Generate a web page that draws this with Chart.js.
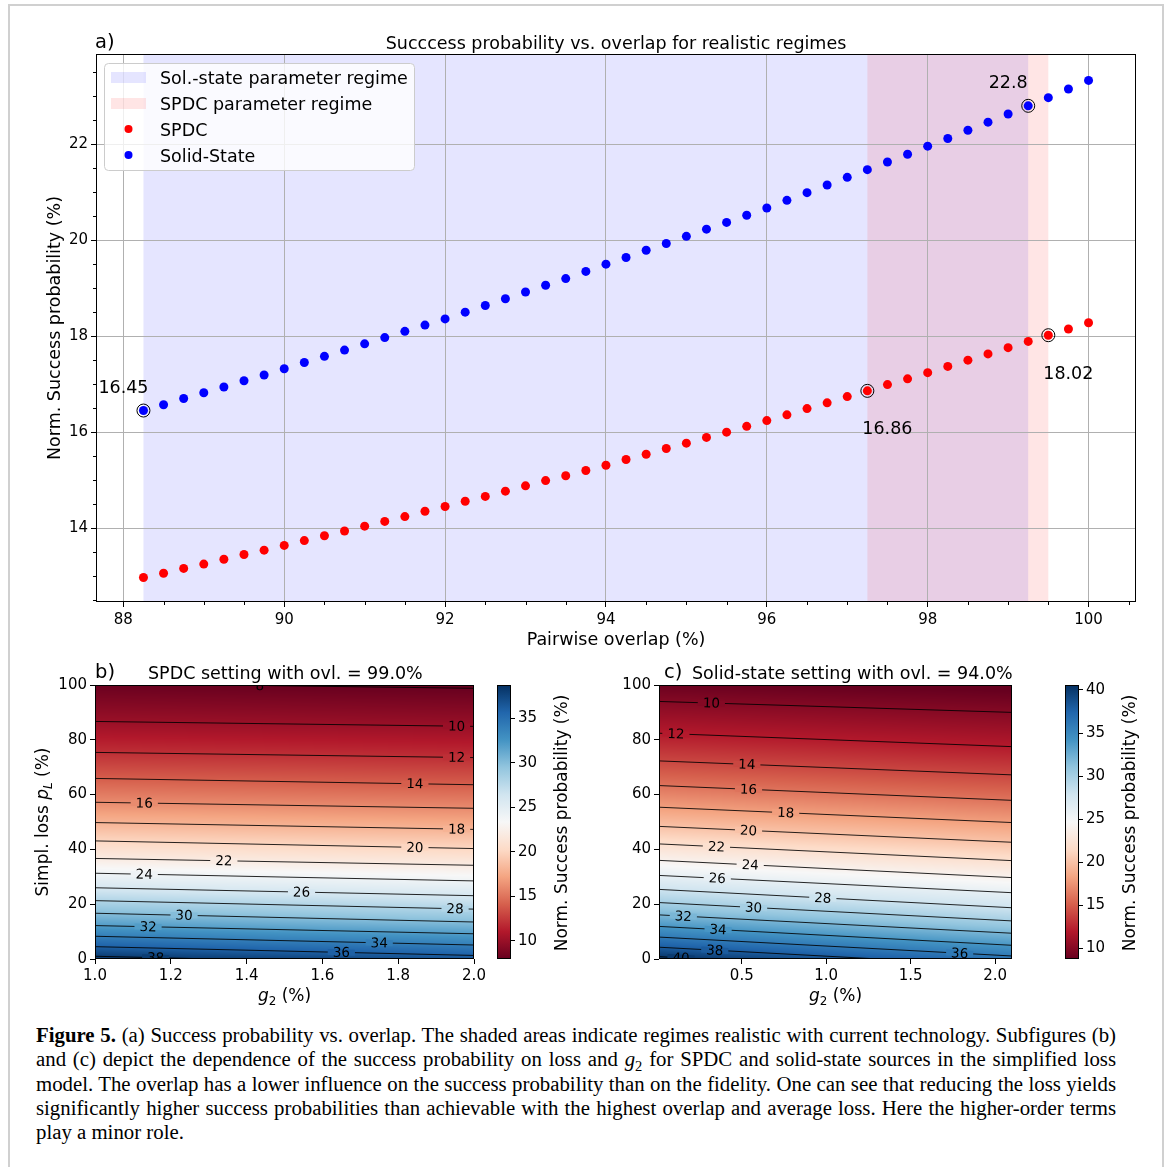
<!DOCTYPE html>
<html>
<head>
<meta charset="utf-8">
<script src="https://cdn.jsdelivr.net/npm/chart.js@4.4.1/dist/chart.umd.min.js"></script>
<style>
html, body { margin: 0; padding: 0; background: #fff; }
body { width: 1168px; height: 1167px; position: relative; overflow: hidden; }
.frame { position: absolute; left: 8px; top: 4px; width: 1156px; height: 1200px; border: 2px solid #d0d0d0; box-sizing: border-box; }
.box { position: absolute; }
.caption { position: absolute; left: 36px; top: 1023px; width: 1080px; font-family: 'Liberation Serif', 'DejaVu Serif', serif; font-size: 20.8px; line-height: 24.3px; color: #000; }
.caption .j { text-align: justify; text-align-last: justify; }
.caption sub { font-size: 70%; line-height: 0; }
</style>
</head>
<body>
<div class="frame"></div>
<div class="box" style="left:0;top:0;"><canvas id="chartA" width="1168" height="660"></canvas></div>
<div class="box" style="left:480px;top:660px;"><canvas id="cbarB" width="120" height="350"></canvas></div>
<div class="box" style="left:0;top:660px;"><canvas id="chartB" width="490" height="350"></canvas></div>
<div class="box" style="left:1050px;top:660px;"><canvas id="cbarC" width="118" height="350"></canvas></div>
<div class="box" style="left:600px;top:660px;"><canvas id="chartC" width="450" height="350"></canvas></div>
<div class="caption">
<div class="j"><b>Figure 5.</b> (a) Success probability vs. overlap. The shaded areas indicate regimes realistic with current technology. Subfigures (b)</div>
<div class="j">and (c) depict the dependence of the success probability on loss and <i>g</i><sub>2</sub> for SPDC and solid-state sources in the simplified loss</div>
<div class="j">model. The overlap has a lower influence on the success probability than on the fidelity. One can see that reducing the loss yields</div>
<div class="j">significantly higher success probabilities than achievable with the highest overlap and average loss. Here the higher-order terms</div>
<div>play a minor role.</div>
</div>
<script>
// ---- data: panel a) ----
var overlap = [88.25, 88.5, 88.75, 89.0, 89.25, 89.5, 89.75, 90.0, 90.25, 90.5, 90.75, 91.0,
    91.25, 91.5, 91.75, 92.0, 92.25, 92.5, 92.75, 93.0, 93.25, 93.5, 93.75, 94.0,
    94.25, 94.5, 94.75, 95.0, 95.25, 95.5, 95.75, 96.0, 96.25, 96.5, 96.75, 97.0,
    97.25, 97.5, 97.75, 98.0, 98.25, 98.5, 98.75, 99.0, 99.25, 99.5, 99.75, 100.0];
var solidState = [16.45, 16.57, 16.70, 16.82, 16.94, 17.07, 17.19, 17.32, 17.45, 17.58, 17.71, 17.84,
    17.97, 18.10, 18.23, 18.36, 18.50, 18.64, 18.78, 18.92, 19.06, 19.20, 19.35, 19.50,
    19.64, 19.79, 19.93, 20.08, 20.23, 20.37, 20.52, 20.67, 20.83, 20.99, 21.15, 21.31,
    21.47, 21.63, 21.79, 21.96, 22.12, 22.29, 22.46, 22.63, 22.80, 22.97, 23.15, 23.33];
var spdc = [12.97, 13.06, 13.16, 13.25, 13.35, 13.45, 13.54, 13.64, 13.74, 13.84, 13.94, 14.04,
    14.14, 14.24, 14.35, 14.45, 14.56, 14.66, 14.77, 14.88, 14.99, 15.09, 15.20, 15.31,
    15.43, 15.54, 15.66, 15.77, 15.89, 16.00, 16.12, 16.24, 16.36, 16.49, 16.61, 16.74,
    16.86, 16.99, 17.11, 17.24, 17.37, 17.50, 17.63, 17.76, 17.89, 18.02, 18.15, 18.28];
var solidRegime = [88.25, 99.25];
var spdcRegime = [97.25, 99.5];
var markedSolid = [88.25, 99.25];
var markedSpdc = [97.25, 99.5];
var overlapTicks = [88, 90, 92, 94, 96, 98, 100];
var probTicks = [14, 16, 18, 20, 22];

// ---- data: panels b) and c), contour lines read at the left / right plot edge ----
var lossTicks = [0, 20, 40, 60, 80, 100];
var levelsB = [8, 10, 12, 14, 16, 18, 20, 22, 24, 26, 28, 30, 32, 34, 36, 38];
var lossLeftB = [100.6, 86.7, 75.4, 65.9, 57.2, 49.8, 43.1, 36.7, 31.3, 26.0, 21.3, 16.7, 12.2, 8.3, 4.5, 1.0];
var lossRightB = [98.8, 84.9, 73.5, 63.6, 55.0, 47.3, 40.3, 34.2, 28.5, 23.1, 18.2, 13.5, 9.2, 5.1, 1.3, -2.2];
var labelAtB = [1.435, 1.954, 1.954, 1.844, 1.13, 1.954, 1.844, 1.34, 1.13, 1.545, 1.95, 1.235, 1.14, 1.75, 1.65, 1.16];
var g2RangeB = [1.0, 2.0];
var g2TicksB = [1.0, 1.2, 1.4, 1.6, 1.8, 2.0];
var cbarRangeB = [7.94, 38.75];
var cbarTicksB = [10, 15, 20, 25, 30, 35];

var levelsC = [10, 12, 14, 16, 18, 20, 22, 24, 26, 28, 30, 32, 34, 36, 38, 40];
var lossLeftC = [94.0, 82.4, 72.3, 63.3, 55.4, 48.4, 42.0, 36.0, 30.5, 25.4, 20.6, 16.1, 11.9, 8.0, 4.3, 0.85];
var lossRightC = [90.0, 77.5, 67.2, 57.9, 49.8, 42.6, 35.9, 29.7, 24.2, 18.7, 13.9, 9.4, 5.0, 1.1, -2.6, -6.0];
var labelAtC = [0.32, 0.11, 0.53, 0.54, 0.76, 0.54, 0.35, 0.55, 0.355, 0.98, 0.57, 0.154, 0.36, 1.79, 0.34, 0.14];
var g2RangeC = [0.01, 2.1];
var g2TicksC = [0.5, 1.0, 1.5, 2.0];
var cbarRangeC = [8.76, 40.58];
var cbarTicksC = [10, 15, 20, 25, 30, 35, 40];

var FONT = "'DejaVu Sans', sans-serif";
Chart.defaults.font.family = FONT;
Chart.defaults.color = '#000';
Chart.defaults.animation = false;

// matplotlib RdBu
var rdbuStops = [[103, 0, 31], [178, 24, 43], [214, 96, 77], [244, 165, 130], [253, 219, 199], [247, 247, 247],
    [209, 229, 240], [146, 197, 222], [67, 147, 195], [33, 102, 172], [5, 48, 97]];
function rdbu(t) {
    t = Math.max(0, Math.min(1, t)) * 10;
    var i = Math.min(9, Math.floor(t)), f = t - i;
    var a = rdbuStops[i], b = rdbuStops[i + 1];
    return [a[0] + (b[0] - a[0]) * f, a[1] + (b[1] - a[1]) * f, a[2] + (b[2] - a[2]) * f];
}
function rgb(c) {
    return 'rgb(' + Math.round(c[0]) + ',' + Math.round(c[1]) + ',' + Math.round(c[2]) + ')';
}

// text with optional italic / subscript parts
function drawRich(ctx, parts, x, y, size, align, angle) {
    ctx.save();
    ctx.translate(x, y);
    if (angle) ctx.rotate(angle);
    var widths = [], total = 0;
    parts.forEach(function (p) {
        ctx.font = (p.italic ? 'italic ' : '') + (p.sub ? size * 0.7 : size) + 'px ' + FONT;
        var w = ctx.measureText(p.t).width;
        widths.push(w);
        total += w;
    });
    var cx = align === 'center' ? -total / 2 : (align === 'right' ? -total : 0);
    ctx.textAlign = 'left';
    ctx.textBaseline = 'middle';
    ctx.fillStyle = '#000';
    parts.forEach(function (p, i) {
        ctx.font = (p.italic ? 'italic ' : '') + (p.sub ? size * 0.7 : size) + 'px ' + FONT;
        ctx.fillText(p.t, cx, p.sub ? size * 0.3 : 0);
        cx += widths[i];
    });
    ctx.restore();
}
function drawText(ctx, t, x, y, size, align, angle) {
    drawRich(ctx, [{t: t}], x, y, size, align, angle);
}
function setTicks(list) {
    return function (scale) {
        scale.ticks = list.map(function (v) { return {value: v}; });
    };
}
function frame(chart) {
    var a = chart.chartArea, ctx = chart.ctx;
    ctx.save();
    ctx.strokeStyle = '#000';
    ctx.lineWidth = 1;
    ctx.strokeRect(Math.round(a.left) + 0.5, Math.round(a.top) + 0.5, Math.round(a.right - a.left) - 1, Math.round(a.bottom - a.top) - 1);
    ctx.restore();
}

// ---------------- panel a) ----------------
function pointsOf(values) {
    return overlap.map(function (x, i) { return {x: x, y: values[i]}; });
}
function marked(list, values) {
    return list.map(function (x) { return {x: x, y: values[overlap.indexOf(x)]}; });
}

var regimePlugin = {
    id: 'regimes',
    beforeDraw: function (chart) {
        var ctx = chart.ctx, a = chart.chartArea, xs = chart.scales.x;
        ctx.save();
        [[solidRegime, 'rgba(0,0,255,0.1)'], [spdcRegime, 'rgba(255,0,0,0.1)']].forEach(function (r) {
            var x0 = xs.getPixelForValue(r[0][0]), x1 = xs.getPixelForValue(r[0][1]);
            ctx.fillStyle = r[1];
            ctx.fillRect(x0, a.top, x1 - x0, a.bottom - a.top);
        });
        ctx.restore();
    }
};

var decorA = {
    id: 'decorA',
    afterDraw: function (chart) {
        var ctx = chart.ctx, a = chart.chartArea, xs = chart.scales.x, ys = chart.scales.y;
        frame(chart);
        // minor ticks
        ctx.save();
        ctx.strokeStyle = '#000';
        ctx.lineWidth = 1;
        ctx.beginPath();
        for (var v = Math.ceil(xs.min * 2) / 2; v <= xs.max; v += 0.5) {
            if (v % 2 === 0) continue;
            var px = Math.round(xs.getPixelForValue(v)) + 0.5;
            ctx.moveTo(px, a.bottom);
            ctx.lineTo(px, a.bottom + 3);
        }
        for (var w = Math.ceil(ys.min * 2) / 2; w <= ys.max; w += 0.5) {
            if (w % 2 === 0) continue;
            var py = Math.round(ys.getPixelForValue(w)) + 0.5;
            ctx.moveTo(a.left, py);
            ctx.lineTo(a.left - 3, py);
        }
        ctx.stroke();
        ctx.restore();

        // annotations of the marked points
        marked(markedSolid, solidState).forEach(function (p) {
            drawText(ctx, String(p.y), xs.getPixelForValue(p.x) - 20, ys.getPixelForValue(p.y) - 22, 17.5, 'center');
        });
        marked(markedSpdc, spdc).forEach(function (p) {
            drawText(ctx, String(p.y), xs.getPixelForValue(p.x) + 20, ys.getPixelForValue(p.y) + 39, 17.5, 'center');
        });

        // legend
        ctx.save();
        ctx.fillStyle = 'rgba(255,255,255,0.8)';
        ctx.strokeStyle = '#cccccc';
        ctx.lineWidth = 1;
        ctx.beginPath();
        ctx.roundRect(104.5, 63.5, 310, 107, 4);
        ctx.fill();
        ctx.stroke();
        ctx.fillStyle = 'rgba(0,0,255,0.1)';
        ctx.fillRect(111, 72, 35, 11);
        ctx.fillStyle = 'rgba(255,0,0,0.1)';
        ctx.fillRect(111, 98, 35, 11);
        ctx.fillStyle = '#ff0000';
        ctx.beginPath(); ctx.arc(128.5, 129, 4, 0, Math.PI * 2); ctx.fill();
        ctx.fillStyle = '#0000ff';
        ctx.beginPath(); ctx.arc(128.5, 155, 4, 0, Math.PI * 2); ctx.fill();
        ctx.restore();
        drawText(ctx, 'Sol.-state parameter regime', 160, 79, 17.5, 'left');
        drawText(ctx, 'SPDC parameter regime', 160, 105, 17.5, 'left');
        drawText(ctx, 'SPDC', 160, 131, 17.5, 'left');
        drawText(ctx, 'Solid-State', 160, 157, 17.5, 'left');

        // titles
        drawText(ctx, 'a)', 95, 43, 19.5, 'left');
        drawText(ctx, 'Succcess probability vs. overlap for realistic regimes', (a.left + a.right) / 2, 44, 17.5, 'center');
        drawText(ctx, 'Pairwise overlap (%)', (a.left + a.right) / 2, 640, 17.5, 'center');
        drawText(ctx, 'Norm. Success probability (%)', 55, (a.top + a.bottom) / 2, 17.5, 'center', -Math.PI / 2);
    }
};

new Chart(document.getElementById('chartA'), {
    type: 'scatter',
    data: {
        datasets: [{
            label: 'SPDC',
            data: pointsOf(spdc),
            backgroundColor: '#ff0000',
            borderWidth: 0,
            pointRadius: 4.5
        }, {
            label: 'Solid-State',
            data: pointsOf(solidState),
            backgroundColor: '#0000ff',
            borderWidth: 0,
            pointRadius: 4.5
        }, {
            label: 'marked',
            data: marked(markedSolid, solidState).concat(marked(markedSpdc, spdc)),
            backgroundColor: 'rgba(0,0,0,0)',
            borderColor: '#000',
            borderWidth: 1,
            pointRadius: 6.5
        }]
    },
    options: {
        responsive: false,
        animation: false,
        devicePixelRatio: 1,
        layout: {padding: {left: 0, top: 54, right: 32, bottom: 0}},
        plugins: {legend: {display: false}, tooltip: {enabled: false}},
        scales: {
            x: {
                type: 'linear',
                min: 87.66,
                max: 100.59,
                afterBuildTicks: setTicks(overlapTicks),
                afterFit: function (s) { s.height = 58; },
                border: {display: false},
                grid: {color: '#b0b0b0', lineWidth: 1, tickColor: '#000', tickLength: 5, tickWidth: 1},
                ticks: {font: {size: 15}, padding: 4, maxRotation: 0, callback: function (v) { return String(v); }}
            },
            y: {
                type: 'linear',
                min: 12.46,
                max: 23.88,
                afterBuildTicks: setTicks(probTicks),
                afterFit: function (s) { s.width = 96; },
                border: {display: false},
                grid: {color: '#b0b0b0', lineWidth: 1, tickColor: '#000', tickLength: 5, tickWidth: 1},
                ticks: {font: {size: 15}, padding: 3, callback: function (v) { return String(v); }}
            }
        }
    },
    plugins: [regimePlugin, decorA]
});

// ---------------- panels b) and c) ----------------
function valueAt(levels, ls, loss) {
    var n = levels.length, i = 0;
    while (i < n - 2 && loss < ls[i + 1]) i++;
    return levels[i] + (levels[i + 1] - levels[i]) * (ls[i] - loss) / (ls[i] - ls[i + 1]);
}

function heatmapChart(id, spec) {
    var norm = function (v) { return (v - spec.vmin) / (spec.vmax - spec.vmin); };
    var datasets = spec.levels.map(function (lv, i) {
        return {
            label: String(lv),
            data: [{x: spec.xRange[0], y: spec.lossLeft[i]}, {x: spec.xRange[1], y: spec.lossRight[i]}],
            showLine: true,
            pointRadius: 0,
            borderColor: 'rgba(0,0,0,0.85)',
            borderWidth: 1
        };
    });
    var fieldPlugin = {
        id: 'field',
        beforeDatasetsDraw: function (chart) {
            var a = chart.chartArea, xs = chart.scales.x, ys = chart.scales.y, ctx = chart.ctx;
            var x0 = Math.round(a.left), y0 = Math.round(a.top);
            var w = Math.round(a.right) - x0, h = Math.round(a.bottom) - y0;
            var img = ctx.createImageData(w, h);
            for (var px = 0; px < w; px++) {
                var t = (xs.getValueForPixel(x0 + px + 0.5) - spec.xRange[0]) / (spec.xRange[1] - spec.xRange[0]);
                var ls = spec.levels.map(function (lv, i) { return spec.lossLeft[i] + (spec.lossRight[i] - spec.lossLeft[i]) * t; });
                for (var py = 0; py < h; py++) {
                    var c = rdbu(norm(valueAt(spec.levels, ls, ys.getValueForPixel(y0 + py + 0.5))));
                    var k = (py * w + px) * 4;
                    img.data[k] = c[0];
                    img.data[k + 1] = c[1];
                    img.data[k + 2] = c[2];
                    img.data[k + 3] = 255;
                }
            }
            ctx.putImageData(img, x0, y0);
        },
        afterDatasetsDraw: function (chart) {
            var a = chart.chartArea, xs = chart.scales.x, ys = chart.scales.y, ctx = chart.ctx;
            ctx.save();
            ctx.beginPath();
            ctx.rect(a.left, a.top, a.right - a.left, a.bottom - a.top);
            ctx.clip();
            ctx.font = '13.5px ' + FONT;
            spec.levels.forEach(function (lv, i) {
                var t = (spec.labelAt[i] - spec.xRange[0]) / (spec.xRange[1] - spec.xRange[0]);
                var loss = spec.lossLeft[i] + (spec.lossRight[i] - spec.lossLeft[i]) * t;
                var px = xs.getPixelForValue(spec.labelAt[i]), py = ys.getPixelForValue(loss);
                var ang = Math.atan2(ys.getPixelForValue(spec.lossRight[i]) - ys.getPixelForValue(spec.lossLeft[i]),
                    xs.getPixelForValue(spec.xRange[1]) - xs.getPixelForValue(spec.xRange[0]));
                var txt = String(lv), tw = ctx.measureText(txt).width;
                ctx.save();
                ctx.translate(px, py);
                ctx.rotate(ang);
                ctx.fillStyle = rgb(rdbu(norm(lv)));
                ctx.fillRect(-tw / 2 - 5, -3, tw + 10, 6);
                ctx.fillStyle = '#000';
                ctx.textAlign = 'center';
                ctx.textBaseline = 'middle';
                ctx.fillText(txt, 0, 1);
                ctx.restore();
            });
            ctx.restore();
        },
        afterDraw: function (chart) {
            frame(chart);
            spec.decor(chart);
        }
    };
    new Chart(document.getElementById(id), {
        type: 'scatter',
        data: {datasets: datasets},
        options: {
            responsive: false,
            animation: false,
            devicePixelRatio: 1,
            layout: {padding: {left: 0, top: 25, right: spec.padRight, bottom: 0}},
            plugins: {legend: {display: false}, tooltip: {enabled: false}},
            scales: {
                x: {
                    type: 'linear',
                    min: spec.xRange[0],
                    max: spec.xRange[1],
                    afterBuildTicks: setTicks(spec.xTicks),
                    afterFit: function (s) { s.height = 51; },
                    border: {display: false},
                    grid: {drawOnChartArea: false, tickColor: '#000', tickLength: 5, tickWidth: 1},
                    ticks: {font: {size: 15}, padding: 3, maxRotation: 0, callback: function (v) { return v.toFixed(1); }}
                },
                y: {
                    type: 'linear',
                    min: 0,
                    max: 100,
                    afterBuildTicks: setTicks(lossTicks),
                    afterFit: function (s) { s.width = spec.axisWidth; },
                    border: {display: false},
                    grid: {drawOnChartArea: false, tickColor: '#000', tickLength: 5, tickWidth: 1},
                    ticks: {font: {size: 15}, padding: 3, callback: function (v) { return String(v); }}
                }
            }
        },
        plugins: [fieldPlugin]
    });
}

function colorbarChart(id, range, ticks, padLeft, labelX) {
    var gradPlugin = {
        id: 'grad',
        beforeDatasetsDraw: function (chart) {
            var a = chart.chartArea, ctx = chart.ctx, ys = chart.scales.y;
            var g = ctx.createLinearGradient(0, ys.getPixelForValue(range[0]), 0, ys.getPixelForValue(range[1]));
            rdbuStops.forEach(function (c, i) { g.addColorStop(i / 10, rgb(c)); });
            ctx.fillStyle = g;
            ctx.fillRect(a.left, a.top, a.right - a.left, a.bottom - a.top);
        },
        afterDraw: function (chart) {
            var a = chart.chartArea;
            frame(chart);
            drawText(chart.ctx, 'Norm. Success probability (%)', labelX, (a.top + a.bottom) / 2 + 1, 17, 'center', -Math.PI / 2);
        }
    };
    new Chart(document.getElementById(id), {
        type: 'scatter',
        data: {datasets: [{data: []}]},
        options: {
            responsive: false,
            animation: false,
            devicePixelRatio: 1,
            layout: {padding: {left: padLeft, top: 25, right: 0, bottom: 51}},
            plugins: {legend: {display: false}, tooltip: {enabled: false}},
            scales: {
                x: {display: false},
                y: {
                    type: 'linear',
                    position: 'right',
                    min: range[0],
                    max: range[1],
                    afterBuildTicks: setTicks(ticks),
                    afterFit: function (s) { s.width = 89; },
                    border: {display: false},
                    grid: {drawOnChartArea: false, tickColor: '#000', tickLength: 4, tickWidth: 1},
                    ticks: {font: {size: 15}, padding: 3, callback: function (v) { return String(v); }}
                }
            }
        },
        plugins: [gradPlugin]
    });
}

var g2Label = [{t: 'g', italic: true}, {t: '2', sub: true}, {t: ' (%)'}];

heatmapChart('chartB', {
    levels: levelsB, lossLeft: lossLeftB, lossRight: lossRightB, labelAt: labelAtB,
    xRange: g2RangeB, xTicks: g2TicksB, vmin: cbarRangeB[0], vmax: cbarRangeB[1],
    axisWidth: 95, padRight: 16,
    decor: function (chart) {
        var ctx = chart.ctx, a = chart.chartArea;
        drawText(ctx, 'b)', 95, 13, 19.5, 'left');
        drawText(ctx, 'SPDC setting with ovl. = 99.0%', 148, 14, 17.5, 'left');
        drawRich(ctx, g2Label, (a.left + a.right) / 2, 337, 17, 'center');
        drawRich(ctx, [{t: 'Simpl. loss '}, {t: 'p', italic: true}, {t: 'L', italic: true, sub: true}, {t: ' (%)'}],
            44, (a.top + a.bottom) / 2, 17, 'center', -Math.PI / 2);
    }
});
colorbarChart('cbarB', cbarRangeB, cbarTicksB, 17, 83);

heatmapChart('chartC', {
    levels: levelsC, lossLeft: lossLeftC, lossRight: lossRightC, labelAt: labelAtC,
    xRange: g2RangeC, xTicks: g2TicksC, vmin: cbarRangeC[0], vmax: cbarRangeC[1],
    axisWidth: 59, padRight: 38,
    decor: function (chart) {
        var ctx = chart.ctx, a = chart.chartArea;
        drawText(ctx, 'c)', 64, 13, 19.5, 'left');
        drawText(ctx, 'Solid-state setting with ovl. = 94.0%', 92, 14, 17.5, 'left');
        drawRich(ctx, g2Label, (a.left + a.right) / 2, 337, 17, 'center');
    }
});
colorbarChart('cbarC', cbarRangeC, cbarTicksC, 15, 81);
</script>
</body>
</html>
